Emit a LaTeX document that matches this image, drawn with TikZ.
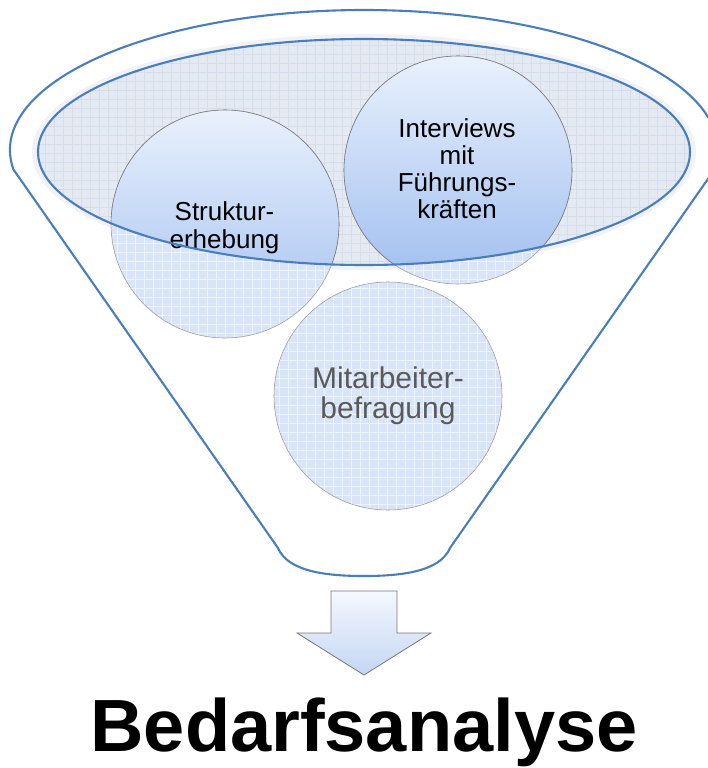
\documentclass[tikz,border=0pt]{standalone}
\usepackage{fontspec}
\setmainfont{Liberation Sans}
\definecolor{funnelblue}{RGB}{74,126,187}
\definecolor{ellfill}{RGB}{228,233,242}
\definecolor{ellgrid}{RGB}{214,221,236}
\definecolor{ellglow}{RGB}{240,242,247}
\definecolor{circout}{RGB}{216,228,248}
\definecolor{circtop}{RGB}{233,241,252}
\definecolor{circbot}{RGB}{160,190,240}
\definecolor{circline}{RGB}{120,120,120}
\definecolor{arrtop}{RGB}{245,248,254}
\definecolor{arrbot}{RGB}{196,214,243}
\definecolor{fadedtext}{RGB}{90,90,90}
\tikzset{
  funnelline/.style={draw=funnelblue, line width=2.1pt, line join=round},
  circbox/.style={circle, minimum size=228pt, inner sep=0pt, draw=circline, line width=0.6pt},
  circtext/.style={align=center, inner sep=0pt},
  arrowbox/.style={draw=circline, line width=0.8pt, top color=arrtop, bottom color=arrbot},
}
\begin{document}
\begin{tikzpicture}[x=1pt,y=-1pt]
\useasboundingbox (0,0) rectangle (708,768);
% funnel outline
\draw[funnelline, fill=white] ([shift={(364,150)}]172:354 and 140) coordinate (tl)
  arc[start angle=172, end angle=368, x radius=354, y radius=140] coordinate (tr)
  -- (450,548) coordinate (br)
  .. controls (440,572) and (400,576) .. (364,576)
  .. controls (328,576) and (288,572) .. (278,548) coordinate (bl) -- cycle;
% inner ellipse fill
\fill[ellglow] (364,152) ellipse[x radius=332, y radius=118];
\begin{scope}
  \clip (364,152) ellipse[x radius=326, y radius=113];
  \fill[ellfill] (0,0) rectangle (708,300);
  \draw[ellgrid, line width=0.6pt] (27,27) grid[step=9pt] (702,288);
\end{scope}
% circles, faded version
\foreach \cx/\cy in {225/224, 458/170, 388/396} {
  \begin{scope}
    \clip (\cx,\cy) circle[radius=114pt];
    \fill[circout] (\cx-120,\cy-120) rectangle (\cx+120,\cy+120);
    \draw[white, line width=0.6pt, opacity=0.6] (\cx-120,\cy-120) grid[step=9pt] (\cx+120,\cy+120);
  \end{scope}
}
\node[circbox, draw=circline!70] (s) at (225,224) {};
\node[circbox, draw=circline!70] (i) at (458,170) {};
\node[circbox, draw=circline!70] (m) at (388,396) {};
% circles, inside the ellipse
\begin{scope}
  \clip (364,152) ellipse[x radius=326, y radius=113];
  \shade[top color=circtop, bottom color=circbot, draw=circline, line width=0.6pt] (s.center) circle[radius=114pt];
  \shade[top color=circtop, bottom color=circbot, draw=circline, line width=0.6pt] (i.center) circle[radius=114pt];
\end{scope}
% texts
\node[circtext, font=\fontsize{26}{28}\selectfont] (st) at (224.5,227.5) {Struktur-\\erhebung};
\node[circtext, font=\fontsize{26}{27}\selectfont] (it) at (457,168.5) {Interviews\\mit\\Führungs-\\kräften};
\node[circtext, font=\fontsize{30}{30}\selectfont, text=fadedtext] (mt) at (388,396) {Mitarbeiter-\\befragung};
% inner ellipse outline
\draw[funnelline] (364,152) ellipse[x radius=326, y radius=113];
% block arrow
\draw[arrowbox] (331,591) coordinate (a1) -- (397,591) -- (397,633) -- (431,633)
  -- (364,675) coordinate (tip) -- (297,633) -- (331,633) -- cycle;
% title
\node[font=\bfseries\fontsize{74}{74}\selectfont, anchor=base, inner sep=0pt] (t) at (364,751) {Bedarfsanalyse};
\end{tikzpicture}
\end{document}
